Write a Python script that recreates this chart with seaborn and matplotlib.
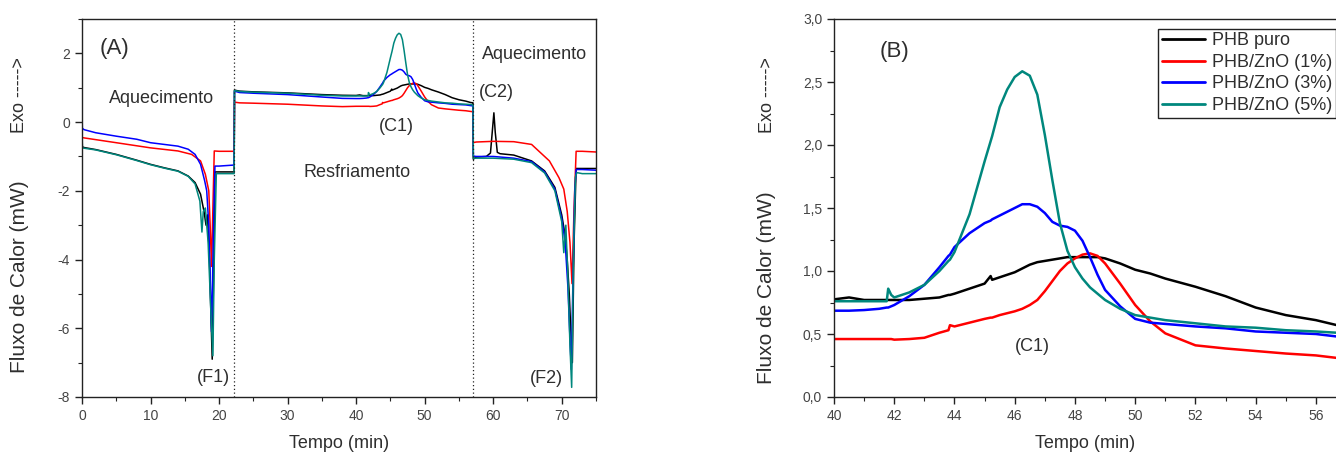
import numpy as np
import pandas as pd
import matplotlib
matplotlib.use("Agg")
import matplotlib.pyplot as plt
from matplotlib.ticker import AutoMinorLocator, FuncFormatter, MultipleLocator
import seaborn as sns

# ---- sample names and colours -------------------------------------------
samples = ["PHB puro", "PHB/ZnO (1%)", "PHB/ZnO (3%)", "PHB/ZnO (5%)"]
colors = ["#000000", "#ff0000", "#0000ff", "#00877d"]

# ---- first heating (min, mW) --------------------------------------------
heat1_t_puro = [0, 0.05, 0.3, 2, 5, 8, 10, 12, 14, 15.5, 16.5, 17.3, 17.8, 18.1, 18.3,
                18.6, 18.8, 19.0, 19.2, 19.4, 20, 22.2]
heat1_v_puro = [-0.3, -0.72, -0.74, -0.80, -0.94, -1.11, -1.23, -1.33, -1.42, -1.57, -1.76,
                -2.10, -2.60, -3.0, -2.7, -4.0, -5.5, -6.9, -4.5, -1.45, -1.45, -1.45]
heat1_t_zno1 = [0, 0.05, 0.3, 5, 10, 14, 16, 17.3, 18, 18.5, 18.7, 18.9, 19.1, 19.3, 20, 22.2]
heat1_v_zno1 = [-0.35, -0.45, -0.46, -0.60, -0.75, -0.84, -0.94, -1.13, -1.52, -2.0, -3.0,
                -4.2, -2.5, -0.84, -0.85, -0.85]
heat1_t_zno3 = [0, 0.05, 0.3, 2, 5, 8, 10, 12, 14, 15.5, 16.5, 17.3, 17.9, 18.2, 18.5,
                18.7, 18.9, 19.2, 19.4, 20, 22.2]
heat1_v_zno3 = [0.32, -0.18, -0.22, -0.31, -0.41, -0.50, -0.60, -0.65, -0.70, -0.79, -0.94,
                -1.23, -1.71, -2.0, -3.0, -4.5, -6.1, -3.0, -1.28, -1.28, -1.25]
heat1_t_zno5 = [0, 0.05, 0.3, 2, 5, 8, 10, 12, 14, 15.5, 16.5, 17.2, 17.5, 17.7, 18.0,
                18.4, 18.8, 19.1, 19.3, 19.6, 20, 22.2]
heat1_v_zno5 = [0.05, -0.75, -0.76, -0.81, -0.95, -1.12, -1.24, -1.34, -1.43, -1.58, -1.80,
                -2.3, -3.2, -2.6, -2.5, -3.5, -5.5, -6.8, -4.0, -1.5, -1.5, -1.5]

# ---- cooling (shared time base, min) -------------------------------------
cool_t = [22.25, 23, 25, 30, 35, 38, 40, 40.5, 41, 41.5, 41.75, 41.8, 41.9, 42, 42.5, 43,
          43.5, 43.8, 43.85, 44, 44.5, 45, 45.2, 45.25, 45.5, 45.75, 46, 46.25, 46.5, 46.75,
          47, 47.25, 47.5, 47.75, 48, 48.25, 48.5, 48.75, 49, 49.5, 50, 50.5, 51, 52, 53,
          54, 55, 56, 56.7, 57.05]
cool_v_puro = [0.93, 0.90, 0.88, 0.85, 0.80, 0.78, 0.775, 0.79, 0.77, 0.77, 0.77, 0.77, 0.77,
               0.77, 0.77, 0.78, 0.79, 0.81, 0.81, 0.82, 0.86, 0.90, 0.96, 0.93, 0.95, 0.97,
               0.99, 1.02, 1.05, 1.07, 1.08, 1.09, 1.10, 1.11, 1.11, 1.11, 1.11, 1.11, 1.10,
               1.06, 1.01, 0.98, 0.94, 0.875, 0.80, 0.71, 0.65, 0.61, 0.57, 0.56]
cool_v_zno1 = [0.58, 0.56, 0.55, 0.52, 0.47, 0.45, 0.46, 0.46, 0.46, 0.46, 0.46, 0.46, 0.46,
               0.455, 0.46, 0.47, 0.51, 0.53, 0.57, 0.56, 0.59, 0.62, 0.63, 0.63, 0.65, 0.665,
               0.68, 0.70, 0.73, 0.77, 0.84, 0.92, 1.00, 1.06, 1.10, 1.13, 1.14, 1.12, 1.06,
               0.90, 0.73, 0.60, 0.505, 0.41, 0.385, 0.365, 0.345, 0.33, 0.31, 0.30]
cool_v_zno3 = [0.90, 0.86, 0.84, 0.80, 0.73, 0.69, 0.685, 0.685, 0.69, 0.70, 0.71, 0.71, 0.72,
               0.73, 0.80, 0.89, 1.03, 1.12, 1.13, 1.19, 1.30, 1.38, 1.40, 1.41, 1.44, 1.47,
               1.50, 1.53, 1.53, 1.51, 1.46, 1.39, 1.36, 1.35, 1.32, 1.24, 1.11, 0.97, 0.85,
               0.72, 0.62, 0.59, 0.58, 0.56, 0.545, 0.52, 0.51, 0.50, 0.48, 0.47]
cool_v_zno5 = [0.92, 0.89, 0.87, 0.84, 0.78, 0.76, 0.76, 0.76, 0.76, 0.76, 0.76, 0.86, 0.81,
               0.79, 0.83, 0.89, 1.00, 1.08, 1.09, 1.15, 1.45, 1.87, 2.03, 2.07, 2.30, 2.44,
               2.54, 2.585, 2.55, 2.40, 2.08, 1.72, 1.38, 1.16, 1.03, 0.94, 0.87, 0.82, 0.77,
               0.70, 0.65, 0.63, 0.61, 0.585, 0.56, 0.55, 0.53, 0.52, 0.51, 0.50]

# ---- second heating (min, mW) --------------------------------------------
heat2_t_puro = [57.1, 57.5, 59, 59.6, 59.9, 60.1, 60.3, 60.6, 61, 63, 65.6, 67.5, 69, 70,
                70.5, 70.8, 71.1, 71.35, 71.55, 71.8, 72.1, 73, 75]
heat2_v_puro = [-1.08, -1.02, -1.0, -0.9, -0.2, 0.27, -0.3, -0.88, -0.92, -0.96, -1.13, -1.42,
                -1.9, -2.7, -3.3, -4.0, -5.0, -6.2, -7.0, -3.5, -1.35, -1.35, -1.35]
heat2_t_zno1 = [57.1, 57.5, 60, 63, 65.6, 68.2, 69.6, 70.3, 70.8, 71.2, 71.5, 71.8, 72.1, 73, 75]
heat2_v_zno1 = [-0.6, -0.58, -0.56, -0.57, -0.65, -1.13, -1.62, -1.95, -2.6, -3.5, -4.7, -2.5,
                -0.85, -0.85, -0.87]
heat2_t_zno3 = [57.1, 57.5, 60, 63, 65.6, 67.5, 69, 70, 70.5, 70.9, 71.2, 71.4, 71.6, 71.9,
                72.1, 73, 75]
heat2_v_zno3 = [-0.99, -1.0, -1.0, -1.05, -1.15, -1.45, -1.95, -2.8, -3.5, -4.8, -6.3, -7.2,
                -5.0, -2.0, -1.38, -1.38, -1.4]
heat2_t_zno5 = [57.1, 57.5, 60, 63, 65.6, 67.5, 69, 70, 70.3, 70.6, 70.9, 71.2, 71.45, 71.7,
                72.0, 72.2, 73, 75]
heat2_v_zno5 = [-1.05, -1.05, -1.05, -1.08, -1.18, -1.48, -2.0, -2.9, -3.8, -3.0, -4.5, -6.5,
                -7.72, -4.0, -1.6, -1.47, -1.5, -1.5]

# ---- segment boundaries of the thermal program ----------------------------
segment_marks = [22.15, 57.05]

heat1 = {"PHB puro": (heat1_t_puro, heat1_v_puro), "PHB/ZnO (1%)": (heat1_t_zno1, heat1_v_zno1),
         "PHB/ZnO (3%)": (heat1_t_zno3, heat1_v_zno3), "PHB/ZnO (5%)": (heat1_t_zno5, heat1_v_zno5)}
cool = {"PHB puro": cool_v_puro, "PHB/ZnO (1%)": cool_v_zno1,
        "PHB/ZnO (3%)": cool_v_zno3, "PHB/ZnO (5%)": cool_v_zno5}
heat2 = {"PHB puro": (heat2_t_puro, heat2_v_puro), "PHB/ZnO (1%)": (heat2_t_zno1, heat2_v_zno1),
         "PHB/ZnO (3%)": (heat2_t_zno3, heat2_v_zno3), "PHB/ZnO (5%)": (heat2_t_zno5, heat2_v_zno5)}

frames_full, frames_cool = [], []
for s in samples:
    t = list(heat1[s][0]) + cool_t + list(heat2[s][0])
    v = list(heat1[s][1]) + cool[s] + list(heat2[s][1])
    frames_full.append(pd.DataFrame({"Tempo": t, "Fluxo": v, "Amostra": s}))
    frames_cool.append(pd.DataFrame({"Tempo": cool_t, "Fluxo": cool[s], "Amostra": s}))
full = pd.concat(frames_full, ignore_index=True)
cooling = pd.concat(frames_cool, ignore_index=True)

# ---- style ----------------------------------------------------------------
sns.set_theme(style="ticks")
plt.rcParams["font.family"] = ["Liberation Sans", "DejaVu Sans"]
plt.rcParams["axes.unicode_minus"] = False
txt = "#2e2e2e"
palette = dict(zip(samples, colors))

fig = plt.figure(figsize=(13.36, 4.53), dpi=100)
axA = fig.add_axes([82 / 1336, 56 / 453, 514 / 1336, 378 / 453])
axB = fig.add_axes([834 / 1336, 56 / 453, 503 / 1336, 378 / 453])

for ax in (axA, axB):
    for sp in ax.spines.values():
        sp.set_linewidth(1.0)
        sp.set_color("#222222")
    ax.tick_params(axis="both", which="major", direction="out", length=5, width=1,
                   labelsize=10, colors="#222222", labelcolor="#444444")
    ax.tick_params(axis="both", which="minor", direction="out", length=3, width=0.8,
                   colors="#222222")

# ---- panel A: full thermal program ---------------------------------------
sns.lineplot(data=full, x="Tempo", y="Fluxo", hue="Amostra", palette=palette,
             sort=False, estimator=None, legend=False, linewidth=1.1, ax=axA)
for xm in segment_marks:
    axA.axvline(xm, color="#222222", linestyle=(0, (1, 2)), linewidth=0.9)
axA.set_xlim(0, 75)
axA.set_ylim(-8, 3)
axA.xaxis.set_major_locator(MultipleLocator(10))
axA.xaxis.set_minor_locator(AutoMinorLocator(2))
axA.yaxis.set_major_locator(MultipleLocator(2))
axA.yaxis.set_minor_locator(AutoMinorLocator(2))
axA.set_xlabel("Tempo (min)", fontsize=13, color=txt, labelpad=9)
axA.set_ylabel("")

annA = [("(A)", 4.8, 2.15, 16), ("Aquecimento", 11.6, 0.7, 13), ("Resfriamento", 40.1, -1.48, 13),
        ("(C1)", 45.9, -0.12, 13), ("Aquecimento", 66.0, 1.97, 13), ("(C2)", 60.5, 0.85, 13),
        ("(F1)", 19.25, -7.43, 13), ("(F2)", 67.8, -7.47, 13)]
for s, x, y, fs in annA:
    axA.text(x, y, s, fontsize=fs, color=txt, ha="center", va="center")

# ---- panel B: crystallisation on cooling ---------------------------------
sns.lineplot(data=cooling, x="Tempo", y="Fluxo", hue="Amostra", palette=palette,
             sort=False, estimator=None, linewidth=1.8, ax=axB)
axB.set_xlim(40, 56.7)
axB.set_ylim(0, 3)
axB.xaxis.set_major_locator(MultipleLocator(2))
axB.xaxis.set_minor_locator(AutoMinorLocator(2))
axB.yaxis.set_major_locator(MultipleLocator(0.5))
axB.yaxis.set_minor_locator(AutoMinorLocator(2))
axB.yaxis.set_major_formatter(FuncFormatter(lambda v, p: f"{v:.1f}".replace(".", ",")))
axB.set_xlabel("Tempo (min)", fontsize=13, color=txt, labelpad=9)
axB.set_ylabel("")
axB.text(42.0, 2.74, "(B)", fontsize=16, color=txt, ha="center", va="center")
axB.text(46.6, 0.40, "(C1)", fontsize=13, color=txt, ha="center", va="center")

leg = axB.legend(loc="upper right", bbox_to_anchor=(0.998, 0.974), fontsize=13, frameon=True,
                 fancybox=False, edgecolor="#222222", framealpha=1, borderaxespad=0.0,
                 handlelength=2.4, handletextpad=0.4, labelspacing=0.25, borderpad=0.2)
leg.get_frame().set_linewidth(1.0)
for line in leg.get_lines():
    line.set_linewidth(2.0)
for t in leg.get_texts():
    t.set_color(txt)

# ---- rotated y-axis captions ---------------------------------------------
for xc in (20 / 1336, 767 / 1336):
    fig.text(xc, 0.79, "Exo ----->", rotation=90, fontsize=13, color=txt,
             ha="center", va="center")
fig.text(20 / 1336, 0.39, "Fluxo de Calor (mW)", rotation=90, fontsize=15, color=txt,
         ha="center", va="center")
fig.text(767 / 1336, 0.365, "Fluxo de Calor (mW)", rotation=90, fontsize=15, color=txt,
         ha="center", va="center")

fig.savefig("out.png", dpi=100)
